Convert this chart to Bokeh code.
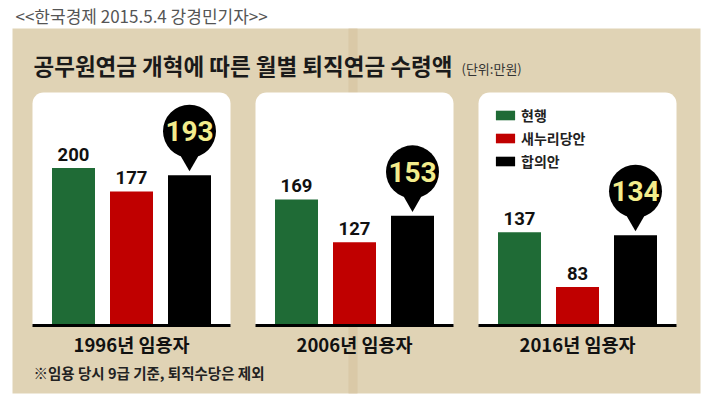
from bokeh.plotting import figure
from bokeh.models import Range1d, BoxAnnotation, Legend, LegendItem
from bokeh.core.properties import value
from bokeh.embed import file_html
from bokeh.resources import INLINE

# ---------------- data ----------------
cohorts = ["1996년 임용자", "2006년 임용자", "2016년 임용자"]
series = ["현행", "새누리당안", "합의안"]
current = [200, 169, 137]      # 현행
saenuri = [177, 127, 83]       # 새누리당안
agreed = [193, 153, 134]       # 합의안
colors = ["#1f6b36", "#c00000", "#000000"]

source_note = "<<한국경제 2015.5.4 강경민기자>>"
title_text = "공무원연금 개혁에 따른 월별 퇴직연금 수령액"
unit_text = "(단위:만원)"
foot_text = "※임용 당시 9급 기준, 퇴직수당은 제외"

# ---------------- layout constants ----------------
W, H = 704, 397
OFF = 0
BASE = 45.2        # value at bar baseline (axis start)
PPU = 1.017        # pixels per unit (만원)
BASE_ROW = 325     # pixel row of the baseline
G0, GSTEP, BSTEP, BW = 131, 223, 58, 43
HALF_PANEL = 99

KR = "'Noto Sans CJK KR', 'Noto Sans', sans-serif"
NUM = "Roboto, 'Liberation Sans', sans-serif"


def Y(row):
    return BASE + (BASE_ROW - row) / PPU


p = figure(width=W, height=H, x_range=Range1d(OFF, OFF + W),
           y_range=Range1d(Y(OFF + H), Y(OFF)),
           output_backend="svg", toolbar_location=None, min_border=0,
           x_axis_location=None, y_axis_location=None)
p.grid.visible = False
p.outline_line_color = None
p.background_fill_color = "white"
p.border_fill_color = "white"

# background panel
p.add_layout(BoxAnnotation(left=12, right=700, top=Y(28), bottom=Y(393),
                           fill_color="#e0d3b5", fill_alpha=1, line_alpha=0,
                           level="underlay"))
p.add_layout(BoxAnnotation(left=348, right=357, top=Y(28), bottom=Y(393),
                           fill_color="#d6c39e", fill_alpha=0.6, line_alpha=0,
                           level="underlay"))

group_centers = [G0 + g * GSTEP for g in range(len(cohorts))]
for gc in group_centers:
    p.add_layout(BoxAnnotation(left=gc - HALF_PANEL, right=gc + HALF_PANEL,
                               top=Y(92), bottom=BASE,
                               fill_color="white", fill_alpha=1, line_alpha=0,
                               border_radius=(11, 11, 0, 0), level="underlay"))

# bars
all_vals = [current, saenuri, agreed]
renderers = []
bar_x = []
for s, vals in enumerate(all_vals):
    xs = [gc + (s - 1) * BSTEP for gc in group_centers]
    bar_x.append(xs)
    r = p.vbar(x=xs, top=vals, bottom=BASE, width=BW,
               fill_color=colors[s], line_color=None)
    renderers.append(r)

# baselines
p.segment(x0=[gc - HALF_PANEL for gc in group_centers],
          x1=[gc + HALF_PANEL for gc in group_centers],
          y0=BASE, y1=BASE, line_width=3, line_color="black")

# value labels for 현행 / 새누리당안
for s in (0, 1):
    p.text(x=bar_x[s], y=all_vals[s], text=[str(v) for v in all_vals[s]],
           text_align="center", text_baseline="middle", y_offset=-14,
           text_font=value(NUM), text_font_style="bold",
           text_font_size="18.5px", text_color="#111111")

# callouts for 합의안
p.scatter(x=bar_x[2], y=[v + 15.5 / PPU for v in agreed], marker="inverted_triangle",
          size=20, fill_color="black", line_color=None)
p.scatter(x=bar_x[2], y=[v + 44 / PPU for v in agreed], marker="circle",
          size=53, fill_color="black", line_color=None)
p.text(x=bar_x[2], y=[v + 44 / PPU for v in agreed], text=[str(v) for v in agreed],
       text_align="center", text_baseline="middle", y_offset=0,
       text_font=value(NUM), text_font_style="bold",
       text_font_size="28px", text_color="#f3ec8c")

# category labels
p.text(x=group_centers, y=[Y(343)] * 3, text=cohorts, text_align="center",
       text_baseline="middle", text_font=value(KR), text_font_style="bold",
       text_font_size="18.5px", text_color="#111111")

# texts
p.text(x=[15], y=[Y(15)], text=[source_note], text_align="left",
       text_baseline="middle", text_font=value(KR), text_font_size="17px",
       text_color="#555555")
p.text(x=[33], y=[Y(64)], text=[title_text], text_align="left",
       text_baseline="middle", text_font=value(KR), text_font_style="bold",
       text_font_size="22.5px", text_color="#1a1a1a")
p.text(x=[461], y=[Y(68)], text=[unit_text], text_align="left",
       text_baseline="middle", text_font=value(KR),
       text_font_size="13px", text_color="#333333")
p.text(x=[33], y=[Y(372)], text=[foot_text], text_align="left",
       text_baseline="middle", text_font=value(KR), text_font_style="bold",
       text_font_size="14.5px", text_color="#222222")

# legend
legend = Legend(items=[LegendItem(label=series[s], renderers=[renderers[s]]) for s in range(3)],
                location=(493, 226), orientation="vertical",
                glyph_width=24, glyph_height=12, label_height=12, label_standoff=4,
                spacing=3, padding=0, margin=0,
                border_line_color=None, background_fill_alpha=0,
                label_text_font=KR, label_text_font_style="bold",
                label_text_font_size="14px", label_text_color="#222222")
p.add_layout(legend)

open("out.html", "w").write(file_html(p, INLINE))
